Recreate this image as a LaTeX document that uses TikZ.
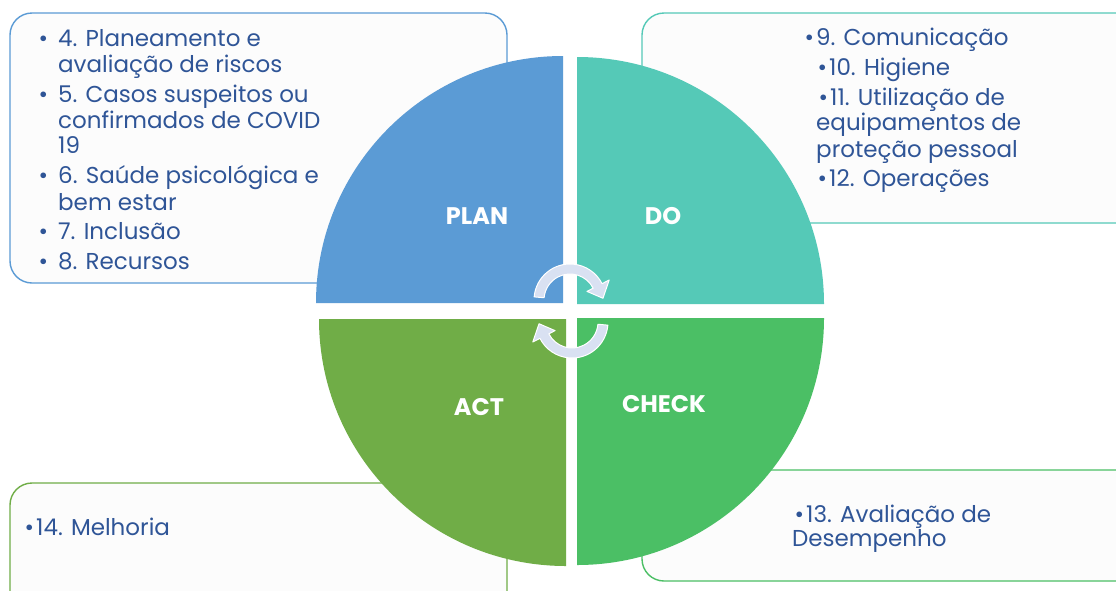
\documentclass[tikz,border=0pt]{standalone}
\usepackage{fontspec}
\setmainfont{Poppins}
\definecolor{planC}{HTML}{5B9BD5}
\definecolor{doC}{HTML}{55C9B7}
\definecolor{actC}{HTML}{70AD47}
\definecolor{checkC}{HTML}{4BBF65}
\definecolor{txtC}{HTML}{2F5597}
\definecolor{boxFill}{HTML}{FCFCFC}
\definecolor{arrC}{HTML}{D9E1F2}
\newcommand\bulgap[1]{\llap{•\hspace{#1}}}
\begin{document}
\begin{tikzpicture}[x=1pt,y=-1pt,
  textbox/.style={rounded corners=22pt, line width=1.4pt, fill=boxFill},
  quad/.style={draw=none},
  lbl/.style={text=white, font=\fontsize{24}{28}\selectfont\bfseries, inner sep=0},
  body/.style={anchor=base west, inner sep=0, text=txtC, font=\fontsize{23}{26}\selectfont},
  cyc/.style={fill=arrC, draw=white, line width=1pt, line join=round}]
\useasboundingbox (0,0) rectangle (1116,590);
\clip (0,0) rectangle (1116,590);
\fill[white] (0,0) rectangle (1116,590);
% text boxes
\draw[textbox, draw=planC] (10,13) rectangle (507,283);
\draw[textbox, draw=doC] (642,13) rectangle (1160,223);
\draw[textbox, draw=actC] (10,483) rectangle (507,640);
\draw[textbox, draw=checkC] (642,470) rectangle (1160,581);
% quadrants
\fill[planC] (563,303) -- ++(-247,0) arc[start angle=180, end angle=270, radius=247] -- cycle;
\fill[doC] (577,304) -- ++(0,-247) arc[start angle=270, end angle=360, radius=247] -- cycle;
\fill[actC] (566,319) -- ++(-247,0) arc[start angle=180, end angle=90, radius=247] -- cycle;
\fill[checkC] (577,318) -- ++(247,0) arc[start angle=0, end angle=90, radius=247] -- cycle;
% labels
\node[lbl] (plan) at (477,216) {PLAN};
\node[lbl] (do) at (663,216) {DO};
\node[lbl] (act) at (479,407) {ACT};
\node[lbl] (check) at (664,404) {CHECK};
% cycle arrows
\coordinate (c1) at (570,300);
\coordinate (c2) at (572,322);
\draw[cyc] ([shift={(185:36)}]c1) arc[start angle=185, end angle=333, radius=36]
  -- ([shift={(333:44)}]c1) -- ([shift={(357:33)}]c1) -- ([shift={(333:19)}]c1)
  -- ([shift={(333:26)}]c1) arc[start angle=333, end angle=185, radius=26] -- cycle;
\draw[cyc] ([shift={(5:36)}]c2) arc[start angle=5, end angle=153, radius=36]
  -- ([shift={(153:44)}]c2) -- ([shift={(177:33)}]c2) -- ([shift={(153:19)}]c2)
  -- ([shift={(153:26)}]c2) arc[start angle=153, end angle=5, radius=26] -- cycle;
% top-left text
\node[body] (t4a) at (58,46) {\bulgap{10pt}4. Planeamento e};
\node[body] (t4b) at (58,72) {avaliação de riscos};
\node[body] (t5a) at (58,102) {\bulgap{10pt}5. Casos suspeitos ou};
\node[body] (t5b) at (58,128) {confirmados de COVID};
\node[body] (t5c) at (58,153) {19};
\node[body] (t6a) at (58,183) {\bulgap{10pt}6. Saúde psicológica e};
\node[body] (t6b) at (58,210) {bem estar};
\node[body] (t7) at (58,239) {\bulgap{10pt}7. Inclusão};
\node[body] (t8) at (58,269) {\bulgap{10pt}8. Recursos};
% top-right text
\node[body] (t9) at (816,45) {\bulgap{2pt}9. Comunicação};
\node[body] (t10) at (829,75) {\bulgap{2pt}10. Higiene};
\node[body] (t11a) at (830,105) {\bulgap{2pt}11. Utilização de};
\node[body] (t11b) at (816,130) {equipamentos de};
\node[body] (t11c) at (816,157) {proteção pessoal};
\node[body] (t12) at (829,186) {\bulgap{2pt}12. Operações};
% bottom texts
\node[body] (t14) at (36,535) {\bulgap{2pt}14. Melhoria};
\node[body] (t13a) at (806,522) {\bulgap{2pt}13. Avaliação de};
\node[body] (t13b) at (792,546) {Desempenho};
\end{tikzpicture}
\end{document}
